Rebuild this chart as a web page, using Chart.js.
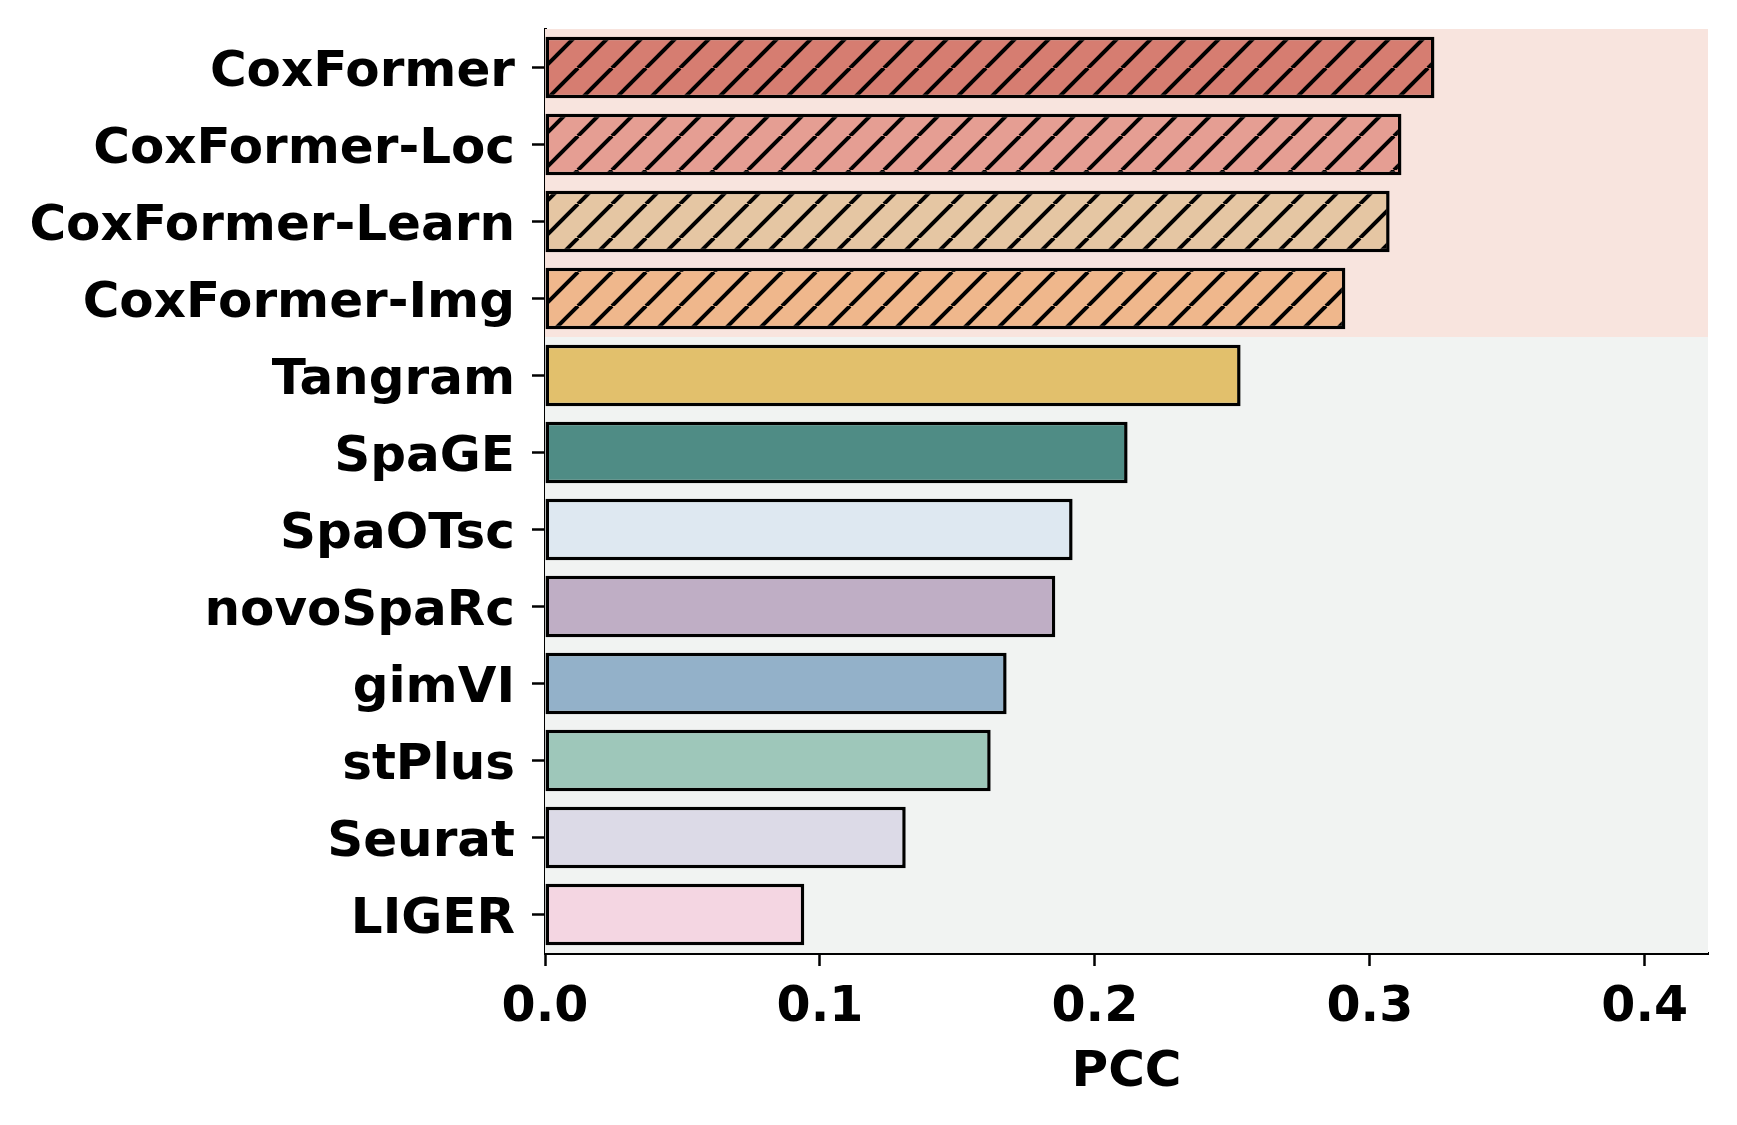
<!DOCTYPE html>
<html>
<head>
<meta charset="utf-8">
<script src="https://cdn.jsdelivr.net/npm/chart.js@4.4.1/dist/chart.umd.min.js"></script>
<style>
  body { margin: 0; background: #ffffff; }
  #wrap { width: 1737px; height: 1125px; }
</style>
</head>
<body>
<div id="wrap"><canvas id="pccChart" width="1737" height="1125"></canvas></div>
<script>
// data
const methods = ['CoxFormer', 'CoxFormer-Loc', 'CoxFormer-Learn', 'CoxFormer-Img', 'Tangram', 'SpaGE',
    'SpaOTsc', 'novoSpaRc', 'gimVI', 'stPlus', 'Seurat', 'LIGER'];
const pccValues = [0.3235, 0.3115, 0.3072, 0.2911, 0.253, 0.2119, 0.1919, 0.1856, 0.1679, 0.1621, 0.1312, 0.0943];
const xTickLabels = ['0.0', '0.1', '0.2', '0.3', '0.4'];
const oursCount = 4; // first four rows are CoxFormer variants

const barColors = ['#d67d71', '#e59e93', '#e5c6a3', '#efb78c', '#e2c06c', '#4f8c85',
    '#dee8f1', '#bfaec5', '#93b1c9', '#9ec7ba', '#dcdae7', '#f4d6e2'];

function hatchPattern(color) {
    const size = 34;
    const c = document.createElement('canvas');
    c.width = size;
    c.height = size;
    const g = c.getContext('2d');
    g.fillStyle = color;
    g.fillRect(0, 0, size, size);
    g.strokeStyle = '#000000';
    g.lineWidth = 4;
    for (const k of [-size, 0, size]) {
        g.beginPath();
        g.moveTo(k, size);
        g.lineTo(k + size, 0);
        g.stroke();
    }
    return g.createPattern(c, 'repeat');
}

const fills = barColors.map((c, i) => i < oursCount ? hatchPattern(c) : c);

// shaded bands behind the bars
const bandPlugin = {
    id: 'bands',
    beforeDatasetsDraw(chart) {
        const { ctx, chartArea, scales } = chart;
        const y = scales.y;
        const split = (y.getPixelForValue(oursCount - 1) + y.getPixelForValue(oursCount)) / 2;
        ctx.save();
        ctx.fillStyle = '#f8e4de';
        ctx.fillRect(chartArea.left, chartArea.top, chartArea.right - chartArea.left, split - chartArea.top);
        ctx.fillStyle = '#f1f3f2';
        ctx.fillRect(chartArea.left, split, chartArea.right - chartArea.left, chartArea.bottom - split);
        ctx.restore();
    }
};

const labelFont = { family: 'DejaVu Sans', size: 50, weight: 'bold' };

new Chart(document.getElementById('pccChart').getContext('2d'), {
    type: 'bar',
    data: {
        labels: methods,
        datasets: [{
            label: 'PCC',
            data: pccValues,
            backgroundColor: fills,
            borderColor: '#000000',
            borderWidth: 3.5,
            borderSkipped: false,
            barPercentage: 0.8,
            categoryPercentage: 1.0
        }]
    },
    options: {
        indexAxis: 'y',
        responsive: false,
        animation: false,
        devicePixelRatio: 1,
        layout: { padding: { left: 0, top: 29, right: 29, bottom: 0 } },
        plugins: {
            legend: { display: false },
            tooltip: { enabled: false }
        },
        scales: {
            x: {
                type: 'linear',
                min: 0,
                max: 0.423,
                afterFit: (scale) => { scale.height = 172; },
                ticks: {
                    stepSize: 0.1,
                    includeBounds: false,
                    color: '#000000',
                    font: { family: 'DejaVu Sans', size: 49, weight: 'bold' },
                    padding: 13,
                    callback: (v) => xTickLabels[Math.round(v * 10)]
                },
                grid: {
                    drawOnChartArea: false,
                    drawTicks: true,
                    tickLength: 13,
                    tickWidth: 2.5,
                    tickColor: '#000000'
                },
                border: { display: true, color: '#000000', width: 3 },
                title: {
                    display: true,
                    text: 'PCC',
                    color: '#000000',
                    font: labelFont,
                    padding: { top: 0, bottom: 22 }
                }
            },
            y: {
                afterFit: (scale) => {
                    scale.width = 545;
                    scale.paddingTop = 0;
                    scale.paddingBottom = 0;
                },
                ticks: {
                    color: '#000000',
                    font: labelFont,
                    padding: 17,
                    labelOffset: 6,
                    autoSkip: false
                },
                grid: {
                    offset: false,
                    drawOnChartArea: false,
                    drawTicks: true,
                    tickLength: 13,
                    tickWidth: 2.5,
                    tickColor: '#000000'
                },
                border: { display: true, color: '#000000', width: 3 }
            }
        }
    },
    plugins: [bandPlugin]
});
</script>
</body>
</html>
